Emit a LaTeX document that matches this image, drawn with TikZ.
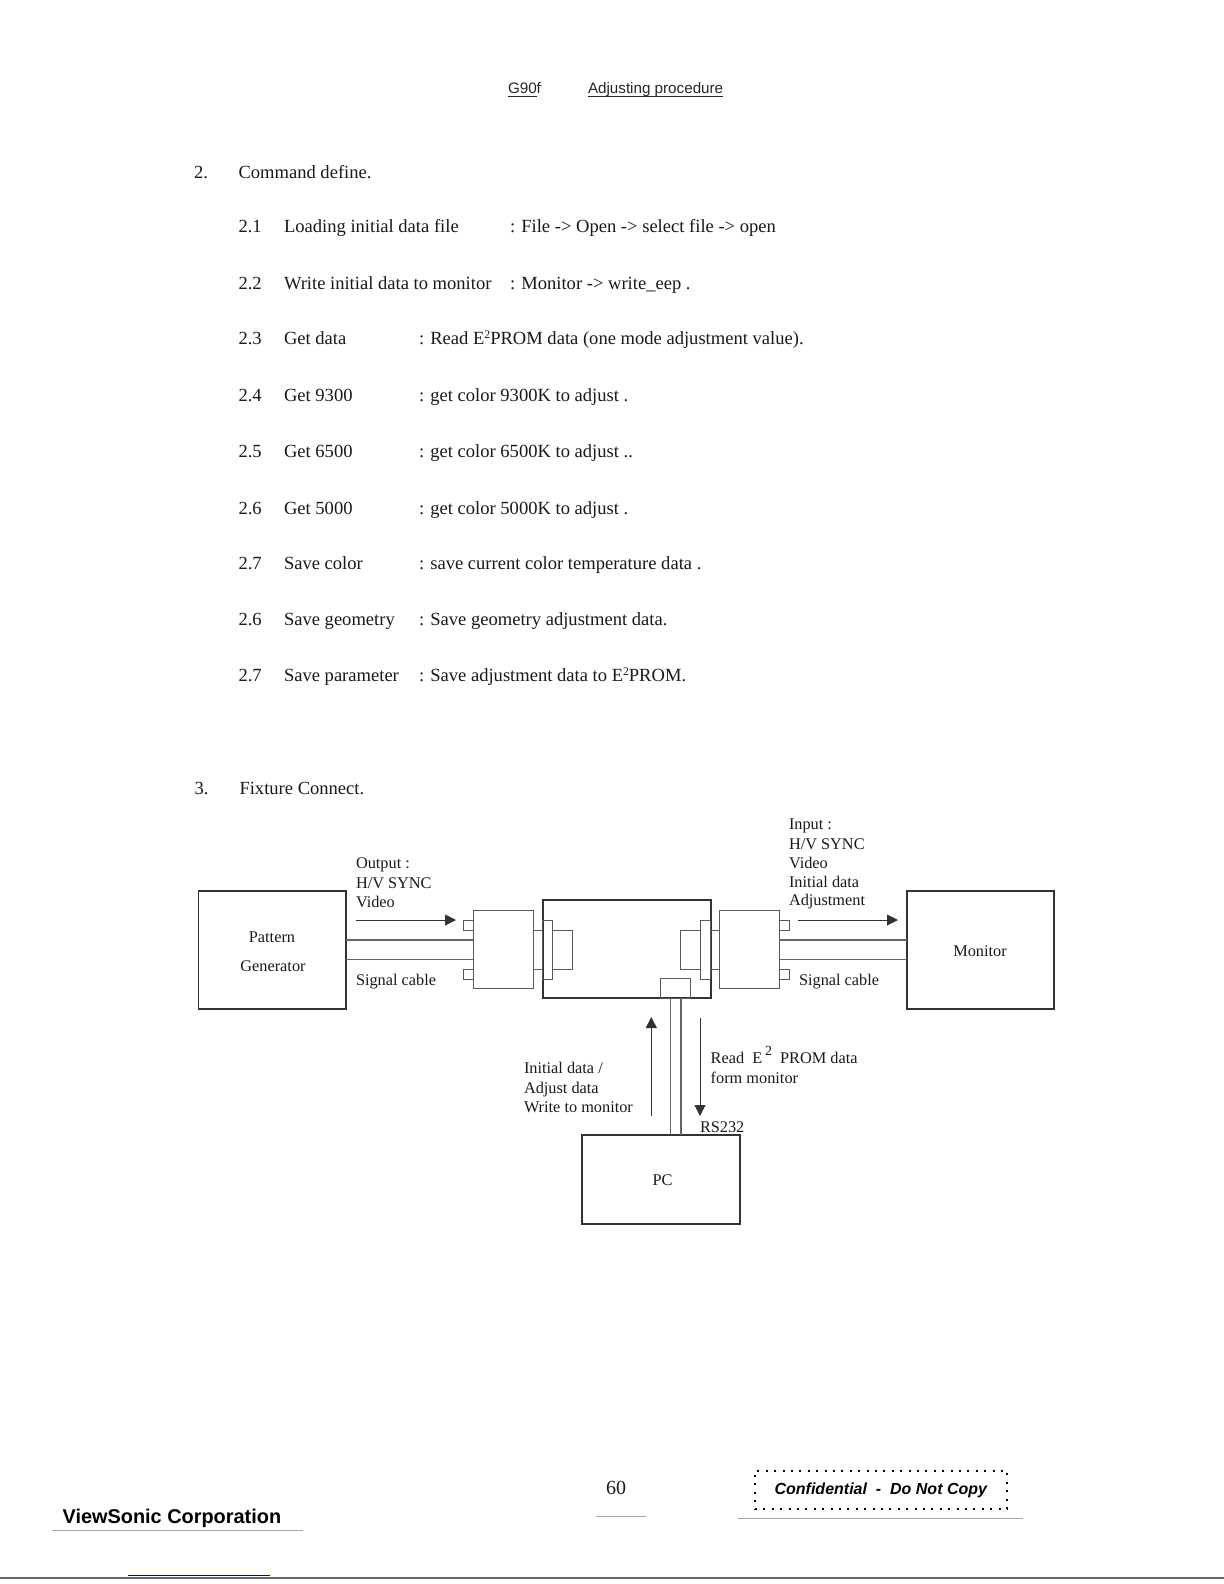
\documentclass[tikz,border=0pt]{standalone}
\usepackage{fontspec}
\setmainfont{Liberation Serif}
\newfontfamily\arialf{Liberation Sans}
\usetikzlibrary{arrows.meta}
\newcommand{\bx}[7]{\node[#6,minimum width={(#4-#2)*0.5pt},minimum height={(#5-#3)*0.5pt}] (#1) at ({(#2+#4)/2},{(#3+#5)/2}) {#7};}
\newcommand{\tx}[4]{\node[txt] (#1) at (#2,#3) {#4};}
\newcommand{\lowsup}[1]{\raisebox{2.9pt}{\fontsize{5.8}{6}\selectfont #1}}
\tikzset{
  txt/.style={anchor=base west,inner sep=0pt,outer sep=0pt,font=\fontsize{9.28}{11}\selectfont,text=black!90},
  dia/.style={anchor=base west,inner sep=0pt,outer sep=0pt,font=\fontsize{8.15}{10}\selectfont,text=black!90},
  heavy/.style={draw=black!80,line width=0.9pt,inner sep=0pt,outer sep=0pt,font=\fontsize{8.15}{10}\selectfont,text=black!90},
  light/.style={draw=black!65,line width=0.5pt,inner sep=0pt,outer sep=0pt},
  wire/.style={draw=black!60,line width=0.6pt},
  flow/.style={draw=black!80,line width=0.45pt,-{Triangle[length=5.5pt,width=5.5pt]}},
  scan/.style={draw=black!35,line width=0.5pt},
  sans/.style={anchor=base west,inner sep=0pt,outer sep=0pt,text=black}
}
\begin{document}
\begin{tikzpicture}[x=0.5pt,y=-0.5pt]
\useasboundingbox (0,0) rectangle (1224,1584);
% header
\node[sans,font=\arialf\fontsize{7.6}{9}\selectfont,text=black!85] (h1) at (508,94) {\underline{\smash{G90}}f\raisebox{2pt}{\fontsize{3}{3}\selectfont\textquotesingle}};
\node[sans,font=\arialf\fontsize{7.6}{9}\selectfont,text=black!85] (h2) at (588,94) {\underline{\smash{Adjusting procedure}}};
% section 2
\tx{s2n}{194}{178}{2.}
\tx{s2t}{238.5}{178}{Command define.}
\tx{a1}{238.5}{232}{2.1} \tx{b1}{284}{232}{Loading initial data file} \tx{c1}{510}{232}{: File -> Open -> select file -> open}
\tx{a2}{238.5}{289}{2.2} \tx{b2}{284}{289}{Write initial data to monitor} \tx{c2}{510}{289}{: Monitor -> write\_eep .}
\tx{a3}{238.5}{344}{2.3} \tx{b3}{284}{344}{Get data} \tx{c3}{419}{344}{: Read E\lowsup{2}PROM data (one mode adjustment value).}
\tx{a4}{238.5}{401}{2.4} \tx{b4}{284}{401}{Get 9300} \tx{c4}{419}{401}{: get color 9300K to adjust .}
\tx{a5}{238.5}{457}{2.5} \tx{b5}{284}{457}{Get 6500} \tx{c5}{419}{457}{: get color 6500K to adjust ..}
\tx{a6}{238.5}{514}{2.6} \tx{b6}{284}{514}{Get 5000} \tx{c6}{419}{514}{: get color 5000K to adjust .}
\tx{a7}{238.5}{569}{2.7} \tx{b7}{284}{569}{Save color} \tx{c7}{419}{569}{: save current color temperature data .}
\tx{a8}{238.5}{625}{2.6} \tx{b8}{284}{625}{Save geometry} \tx{c8}{419}{625}{: Save geometry adjustment data.}
\tx{a9}{238.5}{681}{2.7} \tx{b9}{284}{681}{Save parameter} \tx{c9}{419}{681}{: Save adjustment data to E\lowsup{2}PROM.}
% section 3
\tx{s3n}{194.5}{794}{3.}
\tx{s3t}{239.5}{794}{Fixture Connect.}
% main boxes
\bx{pg}{198.5}{890.7}{346}{1008.7}{heavy}{}
\node[dia,anchor=base] (pgt1) at (272,942) {Pattern};
\node[dia,anchor=base] (pgt2) at (273,971) {Generator};
\bx{mon}{906.7}{890.7}{1054.3}{1008.7}{heavy}{}
\node[dia,anchor=base] (mont) at (980,956.3) {Monitor};
\bx{pc}{582.3}{1135}{739.7}{1224.3}{heavy}{}
\node[dia,anchor=base] (pct) at (662.5,1185.7) {PC};
\bx{ctr}{542.7}{900.3}{710.7}{998.3}{heavy}{}
% left connector
\bx{cl}{473}{910.3}{533.3}{988.3}{light}{}
\bx{clt}{463.7}{920.3}{473}{930.3}{light}{}
\bx{clb}{463.7}{969}{473}{979}{light}{}
\bx{pl}{542.7}{920.3}{552.7}{979}{light}{}
\bx{il}{552.7}{930}{572.7}{969}{light}{}
% right connector
\bx{cr}{719.3}{910.3}{779.3}{988.3}{light}{}
\bx{crt}{779.3}{920.3}{789}{930.3}{light}{}
\bx{crb}{779.3}{969}{789}{979}{light}{}
\bx{pr}{700.3}{920.3}{710.7}{979}{light}{}
\bx{ir}{680.3}{930}{700.3}{969}{light}{}
\bx{rs}{660.7}{978.3}{690.7}{998.3}{light}{}
% stubs
\draw[light] (cl.east |- 0,930) -- (pl.west |- 0,930);
\draw[light] (cl.east |- 0,969) -- (pl.west |- 0,969);
\draw[light] (pr.east |- 0,930) -- (cr.west |- 0,930);
\draw[light] (pr.east |- 0,969) -- (cr.west |- 0,969);
% cables
\draw[wire] (pg.east |- 0,940) -- (cl.west |- 0,940);
\draw[wire] (pg.east |- 0,959.3) -- (cl.west |- 0,959.3);
\draw[wire] (cr.east |- 0,940) -- (mon.west |- 0,940);
\draw[wire] (cr.east |- 0,959.3) -- (mon.west |- 0,959.3);
\draw[wire] (670.7,0 |- ctr.south) -- (670.7,0 |- pc.north);
\draw[wire] (681,0 |- ctr.south) -- (681,0 |- pc.north);
% arrows
\coordinate (o1) at (356,920); \coordinate (o2) at (456,920);
\coordinate (i1) at (798.3,920); \coordinate (i2) at (898,920);
\coordinate (u1) at (651.3,1115.7); \coordinate (u2) at (651.3,1017);
\coordinate (d1) at (700,1017.7); \coordinate (d2) at (700,1116);
\draw[flow] (o1) -- (o2);
\draw[flow] (i1) -- (i2);
\draw[flow] (u1) -- (u2);
\draw[flow] (d1) -- (d2);
% labels
\node[dia] (ol1) at (356,868) {Output :};
\node[dia] (ol2) at (356,888) {H/V SYNC};
\node[dia] (ol3) at (356,907.7) {Video};
\node[dia] (sl) at (356,985.3) {Signal cable};
\node[dia] (il1) at (789,829.3) {Input :};
\node[dia] (il2) at (789,849) {H/V SYNC};
\node[dia] (il3) at (789,868.3) {Video};
\node[dia] (il4) at (789,887.7) {Initial data};
\node[dia] (il5) at (789,905.7) {Adjustment};
\node[dia] (sr) at (799,985.3) {Signal cable};
\node[dia] (w1) at (524,1073) {Initial data /};
\node[dia] (w2) at (524,1093) {Adjust data};
\node[dia] (w3) at (524,1112.7) {Write to monitor};
\node[dia] (r1) at (710.7,1063) {Read\ \ E\,\raisebox{3.6pt}{\fontsize{7}{8}\selectfont 2}\ \ PROM data};
\node[dia] (r2) at (710.7,1083) {form monitor};
\node[dia] (rs232) at (700,1132) {RS232};
% footer
\node[sans,font=\arialf\bfseries\fontsize{9.95}{12}\selectfont] (vs) at (62.6,1523.5) {ViewSonic Corporation};
\node[txt,font=\fontsize{10}{12}\selectfont] (pn) at (606,1494.5) {60};
\bx{conf}{755}{1471}{1007}{1509}{draw=black,line width=0.7pt,dash pattern=on 1pt off 3.2pt,inner sep=0pt}{}
\node[sans,font=\arialf\bfseries\itshape\fontsize{8}{10}\selectfont] (ct) at (774.6,1494.5) {Confidential\ \ -\ \ Do Not Copy};
% scan marks
\coordinate (l1) at (52,1530.7); \coordinate (l2) at (303,1530.7);
\draw[scan] (l1) -- (l2);
\coordinate (l3) at (596,1516); \coordinate (l4) at (646,1516);
\draw[scan] (l3) -- (l4);
\coordinate (l5) at (738,1518.5); \coordinate (l6) at (1023,1518.5);
\draw[scan] (l5) -- (l6);
\coordinate (l7) at (0,1578); \coordinate (l8) at (1224,1578);
\draw[draw=black!60,line width=0.8pt] (l7) -- (l8);
\coordinate (l9) at (128,1575.5); \coordinate (l10) at (270,1575.5);
\draw[draw=blue!60!black,line width=0.5pt] (l9) -- (l10);
\end{tikzpicture}
\end{document}
